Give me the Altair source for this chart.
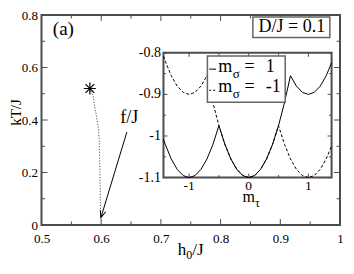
import math
import altair as alt
import pandas as pd

SERIF = "'Liberation Serif', 'Times New Roman', 'DejaVu Serif', serif"
INK = "black"
FRAME = "#4d4d4d"

# ---------------- data ----------------
# inset: free energy vs m_tau for the two m_sigma branches
M_TAU = [-1.43, -1.4, -1.3, -1.2, -1.1, -1.0, -0.9, -0.8, -0.7, -0.6, -0.5, -0.4, -0.3, -0.2, -0.1,
         0.0, 0.1, 0.2, 0.3, 0.4, 0.5, 0.6, 0.7, 0.8, 0.9, 1.0, 1.1, 1.2, 1.3, 1.39]
F_SIGMA_UP = [-1.008, -1.02, -1.055, -1.08, -1.095, -1.1, -1.095, -1.08, -1.055, -1.02, -0.975,
              -1.02, -1.055, -1.08, -1.095, -1.1, -1.095, -1.08, -1.055, -1.02, -0.975, -0.92,
              -0.855, -0.88, -0.895, -0.9, -0.895, -0.88, -0.855, -0.824]
F_SIGMA_DOWN = [-0.808, -0.82, -0.855, -0.88, -0.895, -0.9, -0.895, -0.88, -0.855, -0.92, -0.975,
                -1.02, -1.055, -1.08, -1.095, -1.1, -1.095, -1.08, -1.055, -1.02, -0.975, -1.02,
                -1.055, -1.08, -1.095, -1.1, -1.095, -1.08, -1.055, -1.024]
LEGEND_VALUES = ["1", "-1"]

# main panel: dotted path from the critical point
PATH_H0 = [0.581, 0.587, 0.589, 0.591, 0.593, 0.5952, 0.5965, 0.5972, 0.5978, 0.5985, 0.599, 0.5993]
PATH_KT = [0.52, 0.487, 0.45, 0.428, 0.40, 0.369, 0.33, 0.28, 0.205, 0.12, 0.039, 0.028]
STAR_H0 = [0.581]
STAR_KT = [0.52]
ARROW_FROM = [0.643, 0.354]
ARROW_TO = [0.5995, 0.028]

# ticks / labels
MAIN_X_MAJOR = [0.5, 0.6, 0.7, 0.8, 0.9, 1.0]
MAIN_X_MINOR = [0.55, 0.65, 0.75, 0.85, 0.95]
MAIN_Y_MAJOR = [0.0, 0.2, 0.4, 0.6, 0.8]
MAIN_Y_MINOR = [0.1, 0.3, 0.5, 0.7]
INSET_X_MAJOR = [-1.0, 0.0, 1.0]
INSET_X_LABELS = ["-1", "0", "1"]
INSET_X_MINOR = [-0.5, 0.5]
INSET_Y_MAJOR = [-1.1, -1.0, -0.9, -0.8]
INSET_Y_LABELS = ["-1.1", "-1", "-0.9", "-0.8"]
INSET_Y_MINOR = [-1.05, -0.95, -0.85]

# ---------------- layout ----------------
W = 298.5
H = 210.0
PAD = {"left": 33.5, "top": 7, "right": 5.5, "bottom": 36}
PXX = W / 0.5
PXY = H / 0.8

MX = alt.Scale(domain=[0.5, 1.0], nice=False, zero=False)
MY = alt.Scale(domain=[0.0, 0.8], nice=False, zero=False)

INSET_BOX_H0 = [0.7043, 0.9859]
INSET_BOX_KT = [0.1805, 0.656]
IX_L = (INSET_BOX_H0[0] - 0.5) * PXX
IX_R = (INSET_BOX_H0[1] - 0.5) * PXX
IY_T = (0.8 - INSET_BOX_KT[1]) * PXY
IY_B = (0.8 - INSET_BOX_KT[0]) * PXY
IX = alt.Scale(domain=[-1.43, 1.39], range=[IX_L, IX_R], nice=False, zero=False)
IY = alt.Scale(domain=[-1.1, -0.8], range=[IY_B, IY_T], nice=False, zero=False)

X_AXIS = alt.Axis(values=MAIN_X_MAJOR, format="~g", ticks=False, domain=False, grid=False,
                  labelPadding=7, labelFontSize=13, labelFont=SERIF, labelColor=INK,
                  labelFlush=False, labelOverlap=False, title=None)
Y_AXIS = alt.Axis(values=MAIN_Y_MAJOR, format="~g", ticks=False, domain=False, grid=False,
                  labelPadding=4, labelFontSize=13, labelFont=SERIF, labelColor=INK,
                  labelFlush=False, labelOverlap=False,
                  title="kT/J", titleFont=SERIF, titleFontSize=15, titleFontWeight="normal",
                  titleColor=INK, titleX=-21.5, titleY=97, titleAngle=270,
                  titleBaseline="alphabetic", titleAlign="center")


def mx(f):
    return alt.X(f, type="quantitative", scale=MX, axis=X_AXIS)


def my(f):
    return alt.Y(f, type="quantitative", scale=MY, axis=Y_AXIS)


def ix(f):
    return alt.X(f, type="quantitative", scale=IX, axis=None)


def iy(f):
    return alt.Y(f, type="quantitative", scale=IY, axis=None)


def vticks(vals, enc, y0, y1):
    return alt.Chart(pd.DataFrame({"v": vals})).mark_rule(color=FRAME, strokeWidth=1).encode(
        x=enc("v"), y=alt.value(y0), y2=alt.value(y1))


def hticks(vals, enc, x0, x1):
    return alt.Chart(pd.DataFrame({"v": vals})).mark_rule(color=FRAME, strokeWidth=1).encode(
        y=enc("v"), x=alt.value(x0), x2=alt.value(x1))


one = pd.DataFrame({"k": [0]})

# ---------------- main panel ----------------
main_layers = []
# inward ticks on all four sides
main_layers += [
    vticks(MAIN_X_MAJOR, mx, H, H - 6), vticks(MAIN_X_MINOR, mx, H, H - 3.5),
    vticks(MAIN_X_MAJOR, mx, 0, 6), vticks(MAIN_X_MINOR, mx, 0, 3.5),
    hticks(MAIN_Y_MAJOR, my, 0, 6), hticks(MAIN_Y_MINOR, my, 0, 3.5),
    hticks(MAIN_Y_MAJOR, my, W, W - 6), hticks(MAIN_Y_MINOR, my, W, W - 3.5),
]

path_df = pd.DataFrame({"h0": PATH_H0, "kt": PATH_KT, "i": list(range(len(PATH_H0)))})
main_layers.append(
    alt.Chart(path_df).mark_line(color="#555555", strokeWidth=1, strokeDash=[1.2, 1.6]).encode(
        x=mx("h0"), y=my("kt"), order="i:Q"))

STAR_PATH = "M0,-1L0,1M-1,0L1,0M-0.72,-0.72L0.72,0.72M-0.72,0.72L0.72,-0.72"
main_layers.append(
    alt.Chart(pd.DataFrame({"h0": STAR_H0, "kt": STAR_KT})).mark_point(
        shape=STAR_PATH, size=144, filled=False, color=INK, strokeWidth=1.2, opacity=1).encode(
        x=mx("h0"), y=my("kt")))

arrow_df = pd.DataFrame({"x": [ARROW_FROM[0]], "y": [ARROW_FROM[1]],
                         "x2": [ARROW_TO[0]], "y2": [ARROW_TO[1]]})
main_layers.append(
    alt.Chart(arrow_df).mark_rule(color=INK, strokeWidth=1).encode(
        x=mx("x"), y=my("y"), x2=alt.X2("x2"), y2=alt.Y2("y2")))

dxp = (ARROW_TO[0] - ARROW_FROM[0]) * PXX
dyp = (ARROW_FROM[1] - ARROW_TO[1]) * PXY
ANGLE = math.degrees(math.atan2(-dxp, dyp)) % 360
main_layers.append(
    alt.Chart(pd.DataFrame({"x": [ARROW_TO[0]], "y": [ARROW_TO[1]]})).mark_point(
        shape="M-0.4,-1L0,0L0.4,-1", size=200, angle=ANGLE, filled=False, color=INK,
        strokeWidth=1, opacity=1).encode(x=mx("x"), y=my("y")))

# text annotations
main_layers.append(
    alt.Chart(pd.DataFrame({"x": [0.5366], "y": [0.747], "t": ["(a)"]})).mark_text(
        font=SERIF, fontSize=19, color=INK).encode(x=mx("x"), y=my("y"), text="t:N"))
main_layers.append(
    alt.Chart(pd.DataFrame({"x": [0.6468], "y": [0.408], "t": ["f/J"]})).mark_text(
        font=SERIF, fontSize=18, color=INK).encode(x=mx("x"), y=my("y"), text="t:N"))
main_layers.append(
    alt.Chart(pd.DataFrame({"x": [0.854], "x2": [0.983], "y": [0.714], "y2": [0.792]})).mark_rect(
        fill="white", stroke="#666666", strokeWidth=1.5).encode(
        x=mx("x"), x2=alt.X2("x2"), y=my("y"), y2=alt.Y2("y2")))
main_layers.append(
    alt.Chart(pd.DataFrame({"x": [0.9193], "y": [0.754], "t": ["D/J = 0.1"]})).mark_text(
        font=SERIF, fontSize=18, color=INK).encode(x=mx("x"), y=my("y"), text="t:N"))

# x-axis title h_0/J
XT0 = W / 2 - 12.9
for txt, dx, dy, fs in [("h", 0, 0, 17), ("0", 8.5, 4, 12), ("/J", 14.5, 0, 17)]:
    main_layers.append(
        alt.Chart(one).mark_text(font=SERIF, fontSize=fs, color=INK, align="left",
                                 baseline="alphabetic", text=txt).encode(
            x=alt.value(XT0 + dx), y=alt.value(H + 30 + dy)))

main = alt.layer(*main_layers)

# ---------------- inset ----------------
inset_layers = []
inset_layers.append(
    alt.Chart(pd.DataFrame({"x": [-1.43], "x2": [1.39], "y": [-1.1], "y2": [-0.8]})).mark_rect(
        fill="white", stroke=FRAME, strokeWidth=2).encode(
        x=ix("x"), x2=alt.X2("x2"), y=iy("y"), y2=alt.Y2("y2")))

curve_down = pd.DataFrame({"m": M_TAU, "f": F_SIGMA_DOWN, "i": list(range(len(M_TAU)))})
curve_up = pd.DataFrame({"m": M_TAU, "f": F_SIGMA_UP, "i": list(range(len(M_TAU)))})
inset_layers.append(
    alt.Chart(curve_down).mark_line(color=INK, strokeWidth=1, strokeDash=[3, 2]).encode(
        x=ix("m"), y=iy("f"), order="i:Q"))
inset_layers.append(
    alt.Chart(curve_up).mark_line(color=INK, strokeWidth=1).encode(
        x=ix("m"), y=iy("f"), order="i:Q"))

# inset ticks
inset_layers += [
    vticks(INSET_X_MAJOR, ix, IY_B, IY_B - 4), vticks(INSET_X_MINOR, ix, IY_B, IY_B - 2.5),
    vticks(INSET_X_MAJOR, ix, IY_T, IY_T + 4), vticks(INSET_X_MINOR, ix, IY_T, IY_T + 2.5),
    hticks(INSET_Y_MAJOR, iy, IX_L, IX_L + 4), hticks(INSET_Y_MINOR, iy, IX_L, IX_L + 2.5),
    hticks(INSET_Y_MAJOR, iy, IX_R, IX_R - 4), hticks(INSET_Y_MINOR, iy, IX_R, IX_R - 2.5),
]

# inset tick labels
inset_layers.append(
    alt.Chart(pd.DataFrame({"v": INSET_X_MAJOR, "lab": INSET_X_LABELS})).mark_text(
        font=SERIF, fontSize=13.5, color=INK, baseline="top", align="center").encode(
        x=ix("v"), y=alt.value(IY_B + 1.5), text="lab:N"))
inset_layers.append(
    alt.Chart(pd.DataFrame({"v": INSET_Y_MAJOR, "lab": INSET_Y_LABELS})).mark_text(
        font=SERIF, fontSize=14, color=INK, baseline="middle", align="right").encode(
        y=iy("v"), x=alt.value(IX_L - 2.5), text="lab:N"))

# inset x title m_tau
inset_layers.append(
    alt.Chart(pd.DataFrame({"v": [0.0], "t": ["m"]})).mark_text(
        font=SERIF, fontSize=16, color=INK, align="center", baseline="alphabetic").encode(
        x=ix("v"), y=alt.value(IY_B + 24), text="t:N"))
inset_layers.append(
    alt.Chart(pd.DataFrame({"v": [0.0], "t": ["τ"]})).mark_text(
        font=SERIF, fontSize=12, color=INK, align="left", baseline="alphabetic", dx=6.2).encode(
        x=ix("v"), y=alt.value(IY_B + 29), text="t:N"))

# inset legend
inset_layers.append(
    alt.Chart(pd.DataFrame({"x": [-0.693], "x2": [0.612], "y": [-0.919], "y2": [-0.8074]})).mark_rect(
        fill="white", stroke="#666666", strokeWidth=1.5).encode(
        x=ix("x"), x2=alt.X2("x2"), y=iy("y"), y2=alt.Y2("y2")))
leg_line = pd.DataFrame({"x": [-0.663], "x2": [-0.547], "y": [-0.8393]})
inset_layers.append(
    alt.Chart(leg_line).mark_rule(color=INK, strokeWidth=1).encode(
        x=ix("x"), x2=alt.X2("x2"), y=iy("y")))
leg_line2 = pd.DataFrame({"x": [-0.663], "x2": [-0.547], "y": [-0.89]})
inset_layers.append(
    alt.Chart(leg_line2).mark_rule(color=INK, strokeWidth=1, strokeDash=[2, 2]).encode(
        x=ix("x"), x2=alt.X2("x2"), y=iy("y")))

leg = pd.DataFrame({"xm": [-0.513, -0.513], "xeq": [-0.072, -0.072], "xv": [0.287, 0.287],
                    "y": [-0.8469, -0.8952], "m": ["m", "m"], "s": ["σ", "σ"],
                    "eq": ["=", "="], "val": LEGEND_VALUES})
base_leg = alt.Chart(leg)
inset_layers.append(base_leg.mark_text(font=SERIF, fontSize=18, color=INK, align="left",
                                       baseline="alphabetic").encode(
    x=ix("xm"), y=iy("y"), text="m:N"))
inset_layers.append(base_leg.mark_text(font=SERIF, fontSize=13, color=INK, align="left",
                                       baseline="alphabetic", dx=14.5, dy=6).encode(
    x=ix("xm"), y=iy("y"), text="s:N"))
inset_layers.append(base_leg.mark_text(font=SERIF, fontSize=18, color=INK, align="left",
                                       baseline="alphabetic").encode(
    x=ix("xeq"), y=iy("y"), text="eq:N"))
inset_layers.append(base_leg.mark_text(font=SERIF, fontSize=18, color=INK, align="left",
                                       baseline="alphabetic").encode(
    x=ix("xv"), y=iy("y"), text="val:N"))

inset = alt.layer(*inset_layers)

chart = alt.layer(main, inset).resolve_scale(x="independent", y="independent").properties(
    width=W, height=H, padding=PAD, autosize=alt.AutoSizeParams(type="none")
).configure_view(stroke=FRAME, strokeWidth=2)

chart.save("out.html", embed_options={"renderer": "svg", "actions": False})
